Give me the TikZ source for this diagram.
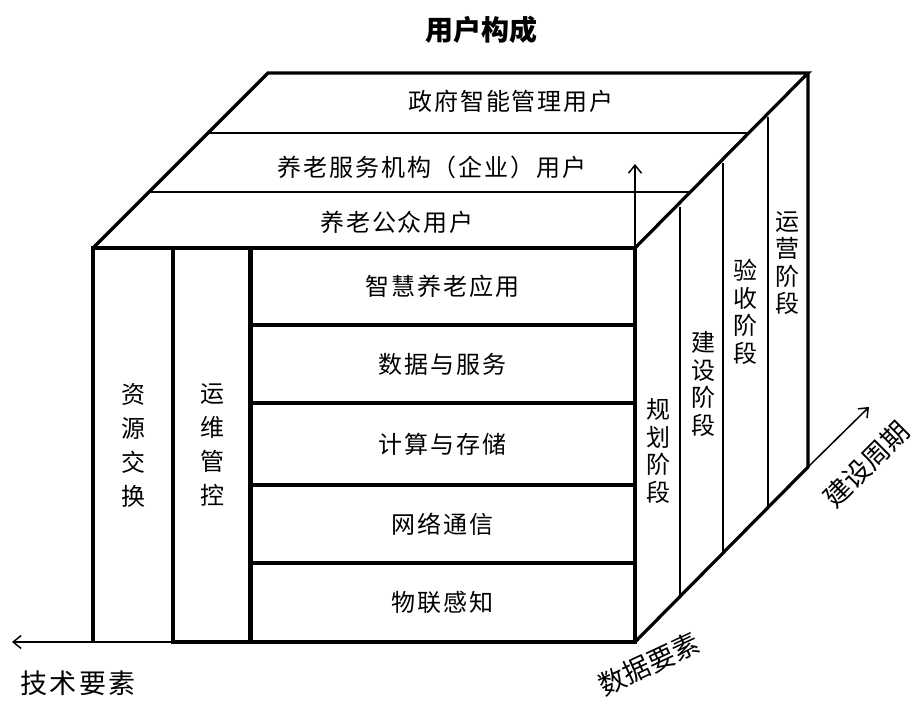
\documentclass[tikz,border=0pt]{standalone}
\usepackage{fontspec}
\newfontfamily\cjk[LetterSpace=8]{Noto Sans CJK SC}
\newfontfamily\cjkplain{Noto Sans CJK SC}
\usetikzlibrary{arrows.meta,calc}
\begin{document}
\begin{tikzpicture}[x=1pt,y=-1pt,
  thickline/.style={line width=3.2pt, line join=miter},
  thinline/.style={line width=1.3pt},
  axisarrow/.style={line width=1.5pt,-{Straight Barb[length=8pt,width=13pt]}},
  txt/.style={font=\cjk\fontsize{24}{28}\selectfont, inner sep=0},
  layer/.style={draw, line width=3.2pt, minimum width=385pt, inner sep=0, outer sep=0, font=\cjk\fontsize{24}{28}\selectfont},
  vcol/.style={minimum height=394pt, inner sep=0, outer sep=0, align=center, text width=24pt, font=\cjkplain\fontsize{24}{34}\selectfont},
  vtxt/.style={align=center, text width=24pt, inner sep=0, font=\cjkplain\fontsize{24}{27.5}\selectfont},
  axislabel/.style={inner sep=0, font=\cjk\fontsize{27}{30}\selectfont},
  rotlabel/.style={inner sep=0, font=\cjkplain\fontsize{27}{30}\selectfont},
]
\useasboundingbox (0,0) rectangle (917,702);

% front layers
\node[layer, minimum height=77pt] (L1) at (442.5,286.5) {智慧养老应用};
\node[layer, minimum height=78pt] (L2) at (442.5,364) {数据与服务};
\node[layer, minimum height=82pt] (L3) at (442.5,444) {计算与存储};
\node[layer, minimum height=78pt] (L4) at (442.5,524) {网络通信};
\node[layer, minimum height=79pt] (L5) at (442.5,602.5) {物联感知};

% columns
\node[vcol, minimum width=80pt] (C1) at (133,445) {资\\源\\交\\换};
\node[vcol, minimum width=78pt, draw, line width=3.2pt] (C2) at (212,445) {运\\维\\管\\控};
\draw[thickline] (C1.south west) -- (C1.north west) -- (C1.north east);

% corners of the back
\coordinate (D) at (268,73);
\coordinate (E) at (808,73);
\coordinate (F) at (808,467);

% top face
\draw[thickline] (C1.north west) -- (D) -- (E) -- (L1.north east);
\draw[thinline] ($(C1.north west)!0.657!(D)$) -- ($(L1.north east)!0.657!(E)$);
\draw[thinline] ($(C1.north west)!0.32!(D)$) -- ($(L1.north east)!0.32!(E)$);
\node[txt] (U1) at (511,101) {政府智能管理用户};
\node[txt] (U2) at (432,167) {养老服务机构（企业）用户};
\node[txt] (U3) at (397,222) {养老公众用户};

% right face
\draw[thickline] (E) -- (F) -- (L5.south east);
\draw[thinline] ($(L1.north east)!0.26!(E) + (0,4)$) -- ($(L5.south east)!0.26!(F)$);
\draw[thinline] ($(L1.north east)!0.509!(E) + (0,4)$) -- ($(L5.south east)!0.509!(F)$);
\draw[thinline] ($(L1.north east)!0.769!(E) + (0,4)$) -- ($(L5.south east)!0.769!(F)$);
\node[vtxt] (S1) at (658,451) {规\\划\\阶\\段};
\node[vtxt] (S2) at (703,384) {建\\设\\阶\\段};
\node[vtxt] (S3) at (745,312) {验\\收\\阶\\段};
\node[vtxt] (S4) at (787,263) {运\\营\\阶\\段};

% axes
\coordinate (tx) at (12,642);
\coordinate (up) at (635,164);
\coordinate (zq) at (869,407);
\draw[axisarrow] (C2.south west) -- (tx);
\draw[axisarrow] (L1.north east) -- (up);
\draw[axisarrow] (F) -- (zq);

% labels
\node[inner sep=0, font=\cjkplain\bfseries\fontsize{28}{30}\selectfont] (title) at (481,30) {用户构成};
\node[axislabel] (A1) at (78,683) {技术要素};
\node[rotlabel, rotate=25] (A2) at (649,664) {数据要素};
\node[rotlabel, rotate=45] (A3) at (866,464) {建设周期};
\end{tikzpicture}
\end{document}
